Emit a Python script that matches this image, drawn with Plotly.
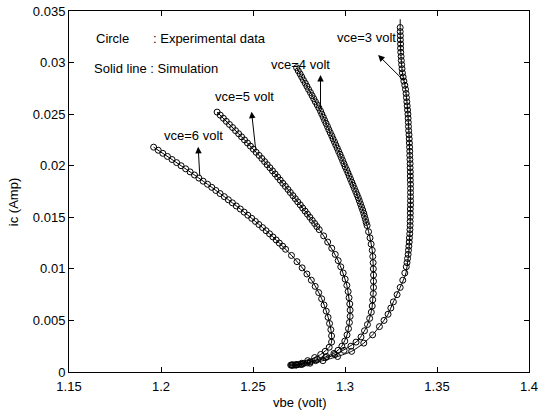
import plotly.graph_objects as go

# ---------------- data ----------------
x_ticks = [1.15, 1.2, 1.25, 1.3, 1.35, 1.4]
x_tick_labels = ["1.15", "1.2", "1.25", "1.3", "1.35", "1.4"]
y_ticks = [0, 0.005, 0.01, 0.015, 0.02, 0.025, 0.03, 0.035]
y_tick_labels = ["0", "0.005", "0.01", "0.015", "0.02", "0.025", "0.03", "0.035"]

# Experimental data (circles)
vbe_exp_6 = [1.1960, 1.1985, 1.2010, 1.2035, 1.2060, 1.2085, 1.2109, 1.2134, 1.2158, 1.2182,
             1.2206, 1.2229, 1.2253, 1.2276, 1.2298, 1.2321, 1.2344, 1.2366, 1.2388, 1.2409,
             1.2431, 1.2452, 1.2472, 1.2493, 1.2513, 1.2532, 1.2552, 1.2571, 1.2590, 1.2608,
             1.2626, 1.2643, 1.2661, 1.2677,
             1.2709, 1.2739, 1.2767, 1.2793, 1.2817, 1.2838, 1.2857, 1.2873, 1.2886, 1.2898,
             1.2908, 1.2916, 1.2923, 1.2927, 1.2927,
             1.2914, 1.2892, 1.2868, 1.2835, 1.2797, 1.2765, 1.2738, 1.2720, 1.2705]
ic_exp_6 = [0.0218, 0.0215, 0.0212, 0.0209, 0.0206, 0.0203, 0.0200, 0.0197, 0.0194, 0.0191,
            0.0188, 0.0185, 0.0182, 0.0179, 0.0176, 0.0173, 0.0170, 0.0167, 0.0164, 0.0161,
            0.0158, 0.0155, 0.0152, 0.0149, 0.0146, 0.0143, 0.0140, 0.0137, 0.0134, 0.0131,
            0.0128, 0.0125, 0.0122, 0.0119,
            0.0113, 0.0107, 0.0101, 0.0095, 0.0089, 0.0083, 0.0077, 0.0071, 0.0065, 0.0059,
            0.0053, 0.0047, 0.0041, 0.0035, 0.0029,
            0.0024, 0.0020, 0.0017, 0.0014, 0.0011, 0.00085, 0.00072, 0.00068, 0.00067]

vbe_exp_5 = [1.2305, 1.2322, 1.2339, 1.2355, 1.2372, 1.2389, 1.2405, 1.2422, 1.2438, 1.2454,
             1.2470, 1.2486, 1.2502, 1.2517, 1.2533, 1.2548, 1.2563, 1.2577, 1.2592, 1.2606,
             1.2620, 1.2634, 1.2648, 1.2662, 1.2676, 1.2690, 1.2703, 1.2717, 1.2730, 1.2743,
             1.2757, 1.2770, 1.2783, 1.2796, 1.2809, 1.2822, 1.2835, 1.2847, 1.2860,
             1.2884, 1.2906, 1.2928, 1.2947, 1.2963, 1.2977, 1.2990, 1.3001, 1.3010, 1.3017,
             1.3022, 1.3026, 1.3028, 1.3028, 1.3024, 1.3019, 1.3011, 1.2999,
             1.2983, 1.2962, 1.2940, 1.2900, 1.2850, 1.2810, 1.2775, 1.2748, 1.2727, 1.2710]
ic_exp_5 = [0.0252, 0.0249, 0.0246, 0.0243, 0.0240, 0.0237, 0.0234, 0.0231, 0.0228, 0.0225,
            0.0222, 0.0219, 0.0216, 0.0213, 0.0210, 0.0207, 0.0204, 0.0201, 0.0198, 0.0195,
            0.0192, 0.0189, 0.0186, 0.0183, 0.0180, 0.0177, 0.0174, 0.0171, 0.0168, 0.0165,
            0.0162, 0.0159, 0.0156, 0.0153, 0.0150, 0.0147, 0.0144, 0.0141, 0.0138,
            0.0132, 0.0126, 0.0120, 0.0114, 0.0108, 0.0102, 0.0096, 0.0090, 0.0084, 0.0078,
            0.0072, 0.0066, 0.0060, 0.0054, 0.0048, 0.0042, 0.0036, 0.0030,
            0.0025, 0.0021, 0.0018, 0.0015, 0.0012, 0.00098, 0.00083, 0.00073, 0.00068, 0.00067]

vbe_exp_4 = [1.2737, 1.2746, 1.2756, 1.2765, 1.2774, 1.2784, 1.2793, 1.2802, 1.2812, 1.2821,
             1.2830, 1.2839, 1.2849, 1.2858,
             1.2867, 1.2874, 1.2882, 1.2889, 1.2897, 1.2905, 1.2912, 1.2920,
             1.2928, 1.2935, 1.2943, 1.2950, 1.2958, 1.2965, 1.2973, 1.2980,
             1.2987, 1.2994, 1.3001, 1.3009, 1.3016, 1.3023, 1.3030,
             1.3037, 1.3044, 1.3051, 1.3058, 1.3065,
             1.3072, 1.3078, 1.3084, 1.3090, 1.3096,
             1.3102, 1.3106, 1.3111, 1.3115, 1.3120,
             1.3128, 1.3136, 1.3142, 1.3148, 1.3151, 1.3153, 1.3154, 1.3155, 1.3155, 1.3155,
             1.3154, 1.3151, 1.3148, 1.3143, 1.3134, 1.3122, 1.3106, 1.3087,
             1.3060, 1.3032, 1.2995, 1.2945, 1.2895, 1.2840, 1.2795, 1.2762, 1.2735, 1.2715]
ic_exp_4 = [0.0295, 0.0292, 0.0289, 0.0286, 0.0283, 0.0280, 0.0277, 0.0274, 0.0271, 0.0268,
            0.0265, 0.0262, 0.0259, 0.0256,
            0.0253, 0.0250, 0.0247, 0.0244, 0.0241, 0.0238, 0.0235, 0.0232,
            0.0229, 0.0226, 0.0223, 0.0220, 0.0217, 0.0214, 0.0211, 0.0208,
            0.0205, 0.0202, 0.0199, 0.0196, 0.0193, 0.0190, 0.0187,
            0.0184, 0.0181, 0.0178, 0.0175, 0.0172,
            0.0169, 0.0166, 0.0163, 0.0160, 0.0157,
            0.0154, 0.0151, 0.0148, 0.0145, 0.0142,
            0.0136, 0.0130, 0.0124, 0.0118, 0.0112, 0.0106, 0.0100, 0.0094, 0.0088, 0.0082,
            0.0076, 0.0070, 0.0064, 0.0058, 0.0052, 0.0046, 0.0040, 0.0034,
            0.0029, 0.0025, 0.0021, 0.0017, 0.0014, 0.0011, 0.00088, 0.00076, 0.00069, 0.00067]

vbe_exp_3 = [1.3300, 1.3300, 1.3301, 1.3301, 1.3302, 1.3302, 1.3303, 1.3305, 1.3306, 1.3308,
             1.3310, 1.3312, 1.3316, 1.3320, 1.3325, 1.3329, 1.3332, 1.3334, 1.3336, 1.3338,
             1.3340, 1.3342, 1.3343, 1.3344, 1.3345, 1.3346, 1.3348, 1.3349, 1.3350, 1.3351,
             1.3352, 1.3352, 1.3353, 1.3354, 1.3354, 1.3355, 1.3355, 1.3355, 1.3356, 1.3356,
             1.3356, 1.3356, 1.3356, 1.3356, 1.3355, 1.3355, 1.3355, 1.3354, 1.3354, 1.3353,
             1.3352, 1.3350, 1.3349, 1.3347, 1.3345, 1.3343, 1.3340, 1.3337, 1.3333,
             1.3325, 1.3314, 1.3300, 1.3283, 1.3263, 1.3249, 1.3234, 1.3212, 1.3187, 1.3150,
             1.3102, 1.3036, 1.2960, 1.2880, 1.2810, 1.2765, 1.2735, 1.2712]
ic_exp_3 = [0.0334, 0.0330, 0.0326, 0.0322, 0.0318, 0.0314, 0.0310, 0.0306, 0.0302, 0.0298,
            0.0294, 0.0290, 0.0286, 0.0282, 0.0278, 0.0274, 0.0270, 0.0266, 0.0262, 0.0258,
            0.0254, 0.0250, 0.0246, 0.0242, 0.0238, 0.0234, 0.0230, 0.0226, 0.0222, 0.0218,
            0.0214, 0.0210, 0.0206, 0.0202, 0.0198, 0.0194, 0.0190, 0.0186, 0.0182, 0.0178,
            0.0174, 0.0170, 0.0166, 0.0162, 0.0158, 0.0154, 0.0150, 0.0146, 0.0142, 0.0138,
            0.0134, 0.0130, 0.0126, 0.0122, 0.0118, 0.0114, 0.0110, 0.0106, 0.0102,
            0.0096, 0.0089, 0.0082, 0.0075, 0.0068, 0.0062, 0.0056, 0.0050, 0.0044, 0.0036,
            0.0028, 0.0020, 0.0015, 0.0011, 0.00085, 0.00073, 0.00068, 0.00067]

# Simulation (solid lines)
vbe_sim_6 = [1.1960, 1.2060, 1.2158, 1.2253, 1.2344, 1.2431, 1.2513, 1.2590, 1.2661, 1.2725,
             1.2781, 1.2829, 1.2866, 1.2893, 1.2913, 1.2926, 1.2927, 1.2914, 1.2868, 1.2797,
             1.2738, 1.2705]
ic_sim_6 = [0.0218, 0.0206, 0.0194, 0.0182, 0.0170, 0.0158, 0.0146, 0.0134, 0.0122, 0.0110,
            0.0098, 0.0086, 0.0074, 0.0062, 0.0050, 0.0038, 0.0029, 0.0024, 0.0017, 0.0011,
            0.00072, 0.00067]
vbe_sim_5 = [1.2305, 1.2438, 1.2563, 1.2676, 1.2783, 1.2884, 1.2963, 1.3010, 1.3028, 1.3024,
             1.3011, 1.2983, 1.2940, 1.2883, 1.2810, 1.2748, 1.2710]
ic_sim_5 = [0.0252, 0.0228, 0.0204, 0.0180, 0.0156, 0.0132, 0.0108, 0.0084, 0.0060, 0.0048,
            0.0036, 0.0025, 0.0018, 0.0014, 0.00098, 0.00073, 0.00067]
vbe_sim_4 = [1.2737, 1.2864, 1.2925, 1.2980, 1.3030, 1.3070, 1.3100, 1.3120, 1.3136, 1.3148,
             1.3153, 1.3155, 1.3154, 1.3145, 1.3118, 1.3073, 1.3009, 1.2936, 1.2850, 1.2780,
             1.2738, 1.2712]
ic_sim_4 = [0.0295, 0.0254, 0.0230, 0.0208, 0.0187, 0.0170, 0.0155, 0.0142, 0.0130, 0.0118,
            0.0105, 0.0090, 0.0079, 0.0060, 0.0044, 0.0031, 0.0023, 0.0016, 0.0011, 0.00082,
            0.00070, 0.00067]
vbe_sim_3 = [1.3300, 1.3300, 1.3303, 1.3312, 1.3328, 1.3340, 1.3348, 1.3354, 1.3356, 1.3354,
             1.3346, 1.3330, 1.3300, 1.3263, 1.3234, 1.3187, 1.3150, 1.3102, 1.3036, 1.2960,
             1.2880, 1.2800, 1.2750, 1.2712]
ic_sim_3 = [0.0342, 0.0334, 0.0310, 0.0290, 0.0276, 0.0255, 0.0230, 0.0200, 0.0170, 0.0140,
            0.0115, 0.0095, 0.0082, 0.0068, 0.0056, 0.0044, 0.0036, 0.0028, 0.0020, 0.0015,
            0.0011, 0.00080, 0.00070, 0.00067]

# Curve labels and arrows (label position, arrow tail on curve, arrow head)
label_texts = ["vce=3 volt", "vce=4 volt", "vce=5 volt", "vce=6 volt"]
label_vbe = [1.3119, 1.2757, 1.2454, 1.2178]
label_ic = [0.03241, 0.02986, 0.02675, 0.02297]
arrow_tail_vbe = [1.3326, 1.2867, 1.2515, 1.2211]
arrow_tail_ic = [0.02814, 0.02539, 0.02151, 0.01892]
arrow_head_vbe = [1.3180, 1.2867, 1.2492, 1.2202]
arrow_head_ic = [0.03073, 0.02879, 0.02523, 0.02183]

# ---------------- figure ----------------
FONT = "Liberation Sans, Arial, sans-serif"
fig = go.Figure()

sims = [(vbe_sim_6, ic_sim_6), (vbe_sim_5, ic_sim_5), (vbe_sim_4, ic_sim_4), (vbe_sim_3, ic_sim_3)]
exps = [(vbe_exp_6, ic_exp_6), (vbe_exp_5, ic_exp_5), (vbe_exp_4, ic_exp_4), (vbe_exp_3, ic_exp_3)]

for vx, iy in sims:
    fig.add_trace(go.Scatter(x=vx, y=iy, mode="lines",
                             line=dict(color="black", width=1, shape="spline", smoothing=0.6),
                             hoverinfo="skip", showlegend=False))
for vx, iy in exps:
    fig.add_trace(go.Scatter(x=vx, y=iy, mode="markers",
                             marker=dict(symbol="circle-open", size=6, color="black",
                                         line=dict(color="black", width=1)),
                             showlegend=False))

ann = []
for t, lx, ly in zip(label_texts, label_vbe, label_ic):
    ann.append(dict(x=lx, y=ly, xref="x", yref="y", text=t, showarrow=False,
                    xanchor="center", yanchor="middle", font=dict(size=13, color="black")))
for tx, ty, hx, hy in zip(arrow_tail_vbe, arrow_tail_ic, arrow_head_vbe, arrow_head_ic):
    ann.append(dict(x=hx, y=hy, ax=tx, ay=ty, xref="x", yref="y", axref="x", ayref="y",
                    text="", showarrow=True, arrowhead=2, arrowsize=1.3, arrowwidth=1,
                    arrowcolor="black", standoff=0, startstandoff=0))

ann += [
    dict(x=1.1634, y=0.03238, xref="x", yref="y", text="Circle", showarrow=False,
         xanchor="left", yanchor="middle", font=dict(size=13, color="black")),
    dict(x=1.1944, y=0.03238, xref="x", yref="y", text=": Experimental data", showarrow=False,
         xanchor="left", yanchor="middle", font=dict(size=13, color="black")),
    dict(x=1.1623, y=0.02947, xref="x", yref="y", text="Solid line : Simulation", showarrow=False,
         xanchor="left", yanchor="middle", font=dict(size=13, color="black")),
    dict(x=0.5, y=-0.084, xref="paper", yref="paper", text="vbe (volt)", showarrow=False,
         xanchor="center", yanchor="middle", font=dict(size=13, color="black")),
    dict(x=-0.12, y=0.47, xref="paper", yref="paper", text="ic (Amp)", showarrow=False,
         textangle=-90, xanchor="center", yanchor="middle", font=dict(size=13, color="black")),
]

axis_common = dict(showgrid=False, zeroline=False, showline=True, linecolor="black", linewidth=1,
                   mirror="ticks", ticks="inside", ticklen=5, tickwidth=1, tickcolor="black",
                   automargin=False,
                   tickfont=dict(size=13, color="black", family=FONT))

fig.update_layout(
    template="none",
    width=543, height=412,
    margin=dict(l=69, r=14, t=11, b=40, pad=0, autoexpand=False),
    paper_bgcolor="white", plot_bgcolor="white",
    font=dict(family=FONT, size=13, color="black"),
    xaxis=dict(range=[1.15, 1.4], tickvals=x_ticks, ticktext=x_tick_labels,
               ticklabelstandoff=2, **axis_common),
    yaxis=dict(range=[0, 0.035], tickvals=y_ticks, ticktext=y_tick_labels, **axis_common),
    annotations=ann,
    showlegend=False,
)

fig.write_html("out.html", config={"displayModeBar": False},
               post_script="document.body.style.margin='0';document.body.style.overflow='hidden';")
